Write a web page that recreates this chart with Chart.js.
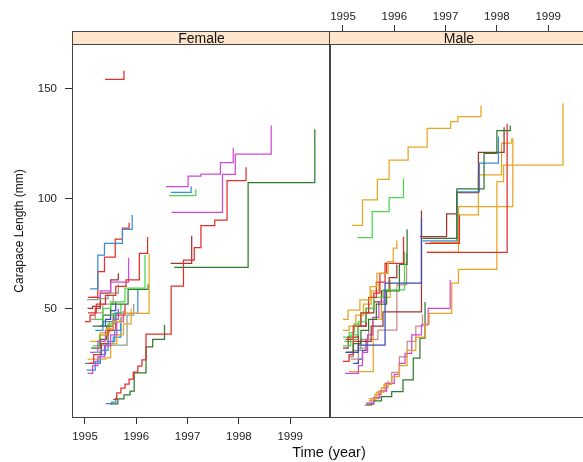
<!DOCTYPE html>
<html>
<head>
<meta charset="utf-8">
<script src="https://cdn.jsdelivr.net/npm/chart.js@4.4.0/dist/chart.umd.min.js"></script>
<style>
    html, body { margin: 0; padding: 0; background: #fff; overflow: hidden; }
    #wrap { position: relative; width: 583px; height: 462px; overflow: hidden; font-family: "Liberation Sans", Arial, sans-serif; color: #111; }
    canvas { position: absolute; top: 0; }
    #femaleCanvas { left: 0; }
    #maleCanvas { left: 329px; }
    .strip { position: absolute; top: 31px; height: 14px; background: #ffe5cc; border: 1px solid #444; box-sizing: border-box; text-align: center; font-size: 14px; line-height: 13px; z-index: 2; }
    #xTitle { position: absolute; left: 229px; width: 200px; top: 444px; text-align: center; font-size: 14.5px; line-height: 17px; }
    #yTitle { position: absolute; left: -81px; width: 200px; top: 223px; height: 16px; line-height: 16px; text-align: center; font-size: 12px; transform: rotate(-90deg); }
</style>
</head>
<body>
<div id="wrap">
    <canvas id="femaleCanvas" width="331" height="462"></canvas>
    <canvas id="maleCanvas" width="262" height="462"></canvas>
    <div class="strip" id="femaleStrip" style="left:72px;width:259px;"></div>
    <div class="strip" id="maleStrip" style="left:329px;width:260px;"></div>
    <div id="xTitle">Time (year)</div>
    <div id="yTitle">Carapace Length (mm)</div>
</div>
<script>
// axis ticks and panel names
const tickYears = [1995, 1996, 1997, 1998, 1999];
const lengthTicks = [50, 100, 150];
const panelNames = ["Female", "Male"];

// lattice-like line colours
const RED = "#e0302c", BLUE = "#3d8dd6", GREEN = "#4cd64c", MAGENTA = "#cf4ad6", ORANGE = "#e8a524",
    DKGREEN = "#2f7a2f", DKRED = "#9e3632", ROSY = "#c78c88", NAVY = "#3a4cb4", GRAY = "#8f9f8f";

// each track: [time (year), carapace length (mm)] at each capture
const femaleTracks = [
    [[1995.39, 154.1], [1995.76, 158]],
    [[1996.58, 105.4], [1997.01, 110.2], [1997.26, 111.1], [1997.64, 116.3], [1997.89, 123.1]],
    [[1996.69, 93.7], [1997.68, 111], [1997.93, 120.1], [1998.63, 133.1]],
    [[1996.67, 102.8], [1997.07, 105.4]],
    [[1996.64, 101.3], [1997.16, 104.2]],
    [[1995.55, 8.7], [1995.62, 11.6], [1995.70, 13.8], [1995.78, 15.6], [1995.86, 17.9], [1995.94, 21.1], [1996.03, 23.8], [1996.11, 26.6], [1996.19, 38.3], [1996.68, 60.2], [1996.92, 72], [1997.13, 77.6], [1997.26, 87.6], [1997.53, 90.1], [1997.77, 108.1], [1998.14, 114.2]],
    [[1996.67, 70.5], [1997.08, 83.1]],
    [[1996.74, 68.7], [1998.18, 107.2], [1999.48, 131.5]],
    [[1995.49, 6.6], [1995.64, 8.9], [1995.76, 10.7], [1995.88, 12.5], [1995.96, 20.7], [1996.19, 32.6], [1996.32, 36], [1996.55, 42.5]],
    [[1995.40, 6.8], [1995.52, 7.5], [1995.60, 9.5]],
    [[1995.10, 58.9], [1995.25, 74.3], [1995.38, 79.6], [1995.73, 86], [1995.92, 92.5]],
    [[1995.06, 55], [1995.25, 66.7], [1995.38, 73.3], [1995.59, 81.5], [1995.73, 86.5], [1995.86, 89]],
    [[1995.06, 48], [1995.22, 52], [1995.40, 56], [1995.60, 60], [1995.80, 63], [1996.06, 75], [1996.22, 82.5]],
    [[1995.30, 38], [1995.42, 41], [1995.55, 44], [1995.72, 47.8], [1996.25, 75]],
    [[1995.20, 45], [1995.35, 50], [1995.50, 53], [1995.78, 59.2], [1996.17, 74.3]],
    [[1995.15, 42], [1995.35, 47], [1995.50, 52], [1995.84, 58.7], [1996.23, 61]],
    [[1995.10, 55], [1995.30, 58], [1995.50, 62], [1995.85, 73]],
    [[1995.20, 40], [1995.35, 44], [1995.60, 47.8], [1996.03, 59]],
    [[1995.04, 54], [1995.25, 54.5], [1995.45, 57], [1995.65, 61]],
    [[1995.05, 50], [1995.15, 51], [1995.30, 57], [1995.50, 63], [1995.65, 66]],
    [[1995.08, 45], [1995.20, 48], [1995.35, 52], [1995.55, 56]],
    [[1995.30, 42], [1995.40, 45], [1995.50, 49], [1995.60, 53]],
    [[1995.05, 20.5], [1995.15, 24], [1995.25, 28], [1995.38, 33], [1995.50, 38], [1995.62, 44], [1995.75, 49]],
    [[1995.03, 22], [1995.20, 26], [1995.30, 31], [1995.45, 35], [1995.58, 40], [1995.70, 46]],
    [[1995.07, 25], [1995.17, 29], [1995.32, 34], [1995.45, 40], [1995.60, 47], [1995.78, 52]],
    [[1995.05, 27], [1995.40, 27.5], [1995.50, 34], [1995.62, 38], [1995.75, 43], [1995.90, 50]],
    [[1995.18, 30], [1995.32, 33.4], [1995.82, 47], [1995.95, 52]],
    [[1995.10, 30], [1995.25, 35], [1995.40, 40], [1995.55, 45], [1995.65, 50]],
    [[1995.12, 32], [1995.30, 36], [1995.42, 42], [1995.55, 48]],
    [[1995.00, 25], [1995.30, 29], [1995.40, 34], [1995.55, 37], [1995.70, 43]],
    [[1995.10, 35], [1995.30, 39], [1995.48, 44], [1995.68, 45]],
    [[1995.15, 33], [1995.28, 38], [1995.45, 43], [1995.58, 48], [1995.70, 52]],
    [[1995.00, 44], [1995.10, 47], [1995.20, 50], [1995.30, 53]],
];
const femaleColors = [
    RED, MAGENTA, MAGENTA, BLUE, GREEN, RED, DKRED, DKGREEN, DKGREEN, BLUE,
    BLUE, RED, RED, ORANGE, GREEN, DKGREEN, MAGENTA, BLUE, GRAY, DKRED, ROSY, NAVY,
    MAGENTA, BLUE, RED, ORANGE, GRAY, MAGENTA, DKGREEN, BLUE, ORANGE, GREEN, RED,
];

const maleTracks = [
    [[1995.18, 87.8], [1995.38, 99.3], [1995.67, 108.7], [1995.90, 117.4], [1996.27, 123.3], [1996.64, 131.9], [1997.10, 134.9], [1997.24, 137.2], [1997.69, 142.2]],
    [[1995.28, 82.2], [1995.57, 94], [1995.90, 100.4], [1996.18, 109.2]],
    [[1996.55, 81.9], [1997.22, 104.3], [1997.75, 120.5], [1998.00, 130.8], [1998.26, 133.1]],
    [[1996.55, 80.7], [1997.22, 103], [1997.66, 116], [1998.03, 128.1]],
    [[1996.50, 82.6], [1997.02, 93], [1997.22, 102.6], [1997.64, 120.9], [1998.14, 132.4]],
    [[1996.64, 75.5], [1998.20, 133.9]],
    [[1996.60, 79.6], [1997.27, 92.5]],
    [[1996.63, 75.5], [1997.25, 96.3], [1998.31, 127.4]],
    [[1996.70, 80], [1997.23, 92.5], [1997.64, 110.7], [1998.09, 125.1], [1998.29, 127.4]],
    [[1995.50, 9], [1995.65, 12], [1995.80, 15.5], [1995.95, 19], [1996.10, 24], [1996.25, 31], [1996.42, 37], [1996.60, 43], [1996.68, 47.8], [1997.12, 61.5], [1997.25, 67.8], [1998.00, 107.6], [1998.13, 115.2], [1999.29, 143.3]],
    [[1995.05, 30], [1995.30, 33.4], [1995.82, 61.5], [1996.53, 91]],
    [[1995.10, 30], [1995.30, 35], [1995.55, 42], [1995.78, 48.5], [1996.53, 94.5]],
    [[1995.45, 7], [1995.60, 9.5], [1995.72, 12.5], [1995.85, 16], [1996.00, 20], [1996.10, 25], [1996.21, 29.6], [1996.34, 38], [1996.53, 42.5], [1996.66, 50.1], [1997.09, 63]],
    [[1995.45, 6.5], [1995.60, 8], [1995.75, 10], [1995.95, 12.2], [1996.17, 17.5], [1996.37, 27.4], [1996.50, 36.5], [1996.60, 53]],
    [[1995.42, 6], [1995.55, 9], [1995.70, 12.5], [1995.82, 16], [1995.95, 21], [1996.10, 28], [1996.25, 35], [1996.42, 42], [1996.55, 47]],
    [[1995.50, 8], [1995.62, 11], [1995.75, 14], [1995.88, 17]],
    [[1995.00, 45], [1995.10, 49.3], [1995.33, 53.9], [1995.53, 59.9], [1995.66, 66], [1995.88, 71.3], [1995.98, 77.4], [1996.05, 81]],
    [[1995.05, 36], [1995.20, 42], [1995.35, 48], [1995.50, 55], [1995.65, 62], [1995.82, 70.5], [1996.18, 82.6]],
    [[1995.00, 33], [1995.15, 38], [1995.30, 44], [1995.45, 50], [1995.60, 55], [1995.78, 58.4], [1996.20, 75.8]],
    [[1995.05, 30], [1995.20, 34], [1995.35, 40], [1995.50, 45], [1995.65, 52], [1995.85, 58], [1996.10, 70], [1996.25, 86]],
    [[1995.04, 20.5], [1995.30, 24], [1995.38, 30], [1995.48, 38], [1995.58, 46], [1995.70, 53], [1995.80, 58]],
    [[1995.15, 27], [1995.30, 32], [1995.45, 36], [1995.68, 40.2], [1996.05, 60.7], [1996.24, 75.2]],
    [[1995.00, 32], [1995.10, 37], [1995.30, 42], [1995.45, 48], [1995.60, 53], [1995.75, 58], [1995.90, 64], [1996.05, 70]],
    [[1995.12, 21.3], [1995.59, 45], [1995.75, 55], [1995.92, 63]],
    [[1995.20, 25], [1995.30, 27], [1995.38, 31], [1995.45, 36]],
    [[1995.00, 37], [1995.12, 39], [1995.22, 43], [1995.35, 48], [1995.50, 52]],
    [[1995.00, 26], [1995.12, 29], [1995.20, 35], [1995.30, 42], [1995.45, 50], [1995.60, 57], [1995.72, 66], [1995.85, 71]],
    [[1995.10, 28], [1995.20, 31], [1995.35, 36], [1995.50, 40]],
    [[1995.00, 40], [1995.12, 42], [1995.25, 47], [1995.40, 52], [1995.55, 58], [1995.70, 62]],
    [[1995.03, 35], [1995.20, 36], [1995.30, 40]],
];
const maleColors = [
    ORANGE, GREEN, DKGREEN, BLUE, DKRED, RED, RED, ORANGE, ORANGE, ORANGE, NAVY, DKRED,
    MAGENTA, DKGREEN, ROSY, ORANGE,
    ORANGE, RED, GREEN, DKGREEN, MAGENTA, ROSY, DKRED, ORANGE, NAVY, GREEN, RED, GRAY, ORANGE, GREEN,
];

const xMin = 1994.747, xMax = 1999.776;
const yMin = 0.23, yMax = 176.1;
const fontFamily = '"Liberation Sans", Arial, sans-serif';

// frame round the panel
const panelBox = {
    id: "panelBox",
    afterDraw(chart) {
        const { ctx, chartArea: a } = chart;
        ctx.save();
        ctx.strokeStyle = "#444";
        ctx.lineWidth = 1;
        ctx.strokeRect(a.left + 0.5, a.top + 0.5, a.right - a.left - 1, a.bottom - a.top - 1);
        ctx.restore();
    },
};

const toDatasets = (tracks, colors) => tracks.map((track, i) => ({
    data: track.map(([t, len]) => ({ x: t, y: len })),
    borderColor: colors[i % colors.length],
    borderWidth: 1.25,
    stepped: true,
    pointRadius: 0,
    fill: false,
}));

const xAxis = (position, height, pad) => ({
    type: "linear",
    position,
    min: xMin,
    max: xMax,
    afterBuildTicks: (s) => { s.ticks = tickYears.map((v) => ({ value: v })); },
    afterFit: (s) => { s.height = height; },
    ticks: {
        callback: (v) => String(v),
        color: "#222",
        font: { family: fontFamily, size: 11.5 },
        padding: pad,
        maxRotation: 0,
        autoSkip: false,
    },
    grid: { drawOnChartArea: false, drawTicks: true, tickLength: 6, tickColor: "#333" },
    border: { display: false },
});

const makePanel = (canvasId, tracks, colors, left) => {
    const ctx = document.getElementById(canvasId).getContext("2d");
    return new Chart(ctx, {
        type: "line",
        data: { datasets: toDatasets(tracks, colors) },
        options: {
            responsive: false,
            animation: false,
            devicePixelRatio: 1,
            layout: left
                ? { padding: { top: 31, left: 0, right: 1, bottom: 0 } }
                : { padding: { top: 0, left: 1, right: 3, bottom: 44 } },
            plugins: { legend: { display: false }, tooltip: { enabled: false } },
            scales: {
                x: left ? xAxis("bottom", 44, 6) : xAxis("top", 31, 1),
                y: {
                    type: "linear",
                    display: left,
                    min: yMin,
                    max: yMax,
                    afterBuildTicks: (s) => { s.ticks = lengthTicks.map((v) => ({ value: v })); },
                    afterFit: (s) => { s.width = left ? 72 : 0; },
                    ticks: {
                        callback: (v) => String(v),
                        color: "#222",
                        font: { family: fontFamily, size: 11.5 },
                        padding: 8,
                    },
                    grid: { drawOnChartArea: false, drawTicks: true, tickLength: 7, tickColor: "#333" },
                    border: { display: false },
                },
            },
        },
        plugins: [panelBox],
    });
};

document.getElementById("femaleStrip").textContent = panelNames[0];
document.getElementById("maleStrip").textContent = panelNames[1];

makePanel("femaleCanvas", femaleTracks, femaleColors, true);
makePanel("maleCanvas", maleTracks, maleColors, false);
</script>
</body>
</html>
